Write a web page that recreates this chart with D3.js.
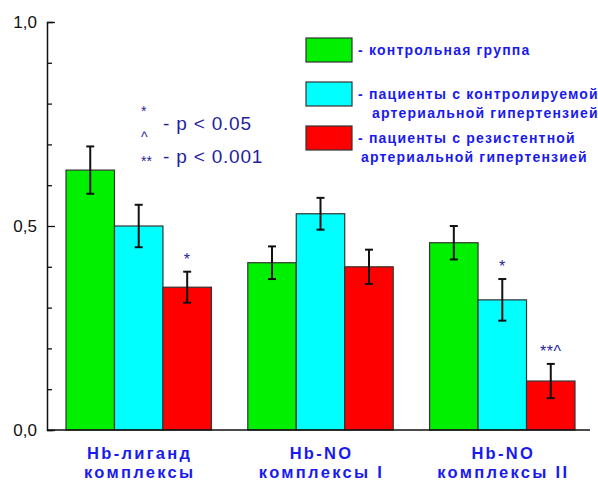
<!DOCTYPE html>
<html>
<head>
<meta charset="utf-8">
<script src="https://cdn.jsdelivr.net/npm/d3@7"></script>
<style>
  body { margin: 0; background: #fff; }
  svg { display: block; }
  .lbl { font-family: "Liberation Sans", Arial, sans-serif; }
</style>
</head>
<body>
<div id="chart"></div>
<script>
// data
const groups = ["g1", "g2", "g3"];
const groupLabels = [["Hb-лиганд", "комплексы"], ["Hb-NO", "комплексы I"], ["Hb-NO", "комплексы II"]];
const series = ["control", "controlled", "resistant"];
const seriesColors = ["#00f000", "#00ffff", "#ff0000"];
const legendLabels = [
  ["- контрольная группа"],
  ["- пациенты с контролируемой", "артериальной гипертензией"],
  ["- пациенты с резистентной", "артериальной гипертензией"]
];
const controlValues = [0.637, 0.41, 0.459];
const controlErrors = [0.058, 0.04, 0.041];
const controlledValues = [0.50, 0.53, 0.319];
const controlledErrors = [0.052, 0.039, 0.051];
const resistantValues = [0.35, 0.40, 0.12];
const resistantErrors = [0.038, 0.042, 0.042];
const marks = [["", "", "*"], ["", "", ""], ["", "*", "**^"]]; // per group, per series
const yTicks = [0, 0.5, 1.0];
const yTickLabels = ["0,0", "0,5", "1,0"];

const width = 598, height = 480;
const margin = {left: 47, bottom: 50, top: 22};

const svg = d3.select("#chart").append("svg")
  .attr("width", width).attr("height", height);

const y = d3.scaleLinear().domain([0, 1]).range([430, 22]);
const x = d3.scaleBand().domain(groups).range([66, 575]).paddingInner(0.2).paddingOuter(0);
const xs = d3.scaleBand().domain(series).range([0, x.bandwidth()]);

const allValues = [controlValues, controlledValues, resistantValues];
const allErrors = [controlErrors, controlledErrors, resistantErrors];

const rows = [];
groups.forEach((g, gi) => {
  series.forEach((s, si) => {
    rows.push({g, s, gi, si, v: allValues[si][gi], e: allErrors[si][gi], mark: marks[gi][si]});
  });
});

// bars
svg.append("g").selectAll("rect")
  .data(rows)
  .join("rect")
  .attr("x", d => x(d.g) + xs(d.s))
  .attr("y", d => y(d.v))
  .attr("width", xs.bandwidth())
  .attr("height", d => y(0) - y(d.v))
  .attr("fill", d => seriesColors[d.si])
  .attr("stroke", "#333")
  .attr("stroke-width", 1.2);

// error bars
const eb = svg.append("g").attr("stroke", "#111").attr("stroke-width", 2);
rows.forEach(d => {
  const cx = x(d.g) + xs(d.s) + xs.bandwidth() / 2;
  eb.append("line").attr("x1", cx).attr("x2", cx).attr("y1", y(d.v + d.e)).attr("y2", y(d.v - d.e));
  eb.append("line").attr("x1", cx - 4).attr("x2", cx + 4).attr("y1", y(d.v + d.e)).attr("y2", y(d.v + d.e));
  eb.append("line").attr("x1", cx - 4).attr("x2", cx + 4).attr("y1", y(d.v - d.e)).attr("y2", y(d.v - d.e));
});

// significance marks
svg.append("g").selectAll("text")
  .data(rows.filter(d => d.mark))
  .join("text")
  .attr("class", "lbl")
  .attr("x", d => x(d.g) + xs(d.s) + xs.bandwidth() / 2)
  .attr("y", d => y(d.v + d.e) - 7)
  .attr("text-anchor", "middle")
  .attr("font-size", 16)
  .attr("letter-spacing", "0.5px")
  .attr("fill", "#1f1fa0")
  .text(d => d.mark);

// axes
const yAxis = d3.axisLeft(y).tickValues(d3.range(0, 1.0001, 0.1)).tickSize(-6).tickFormat("");
const gy = svg.append("g").attr("transform", `translate(${margin.left},0)`).call(yAxis);
gy.select(".domain").attr("stroke", "#111").attr("stroke-width", 1.5);
gy.selectAll(".tick line").attr("stroke", "#111").attr("stroke-width", 1.3)
  .attr("x2", d => (Math.abs(d * 2 - Math.round(d * 2)) < 1e-6) ? 8 : 5);

svg.append("g").selectAll("text")
  .data(yTicks)
  .join("text")
  .attr("class", "lbl")
  .attr("x", 37)
  .attr("y", d => y(d) + 6)
  .attr("text-anchor", "end")
  .attr("font-size", 17)
  .attr("fill", "#111")
  .text((d, i) => yTickLabels[i]);

svg.append("line")
  .attr("x1", margin.left).attr("x2", 590)
  .attr("y1", y(0)).attr("y2", y(0))
  .attr("stroke", "#111").attr("stroke-width", 1.5);

// x labels
const xl = svg.append("g").selectAll("text")
  .data(groups)
  .join("text")
  .attr("class", "lbl")
  .attr("y", 459)
  .attr("text-anchor", "middle")
  .attr("font-size", 16.5)
  .attr("font-weight", "bold")
  .attr("letter-spacing", "2.3px")
  .attr("fill", "#1a1aee");
xl.each(function(d, i) {
  const t = d3.select(this);
  groupLabels[i].forEach((line, li) => {
    t.append("tspan").attr("x", x(d) + x.bandwidth() / 2 + 1).attr("dy", li === 0 ? 0 : 19).text(line);
  });
});

// legend
const lg = svg.append("g");
const legendY = [38, 82, 126];
const legendX2 = [0, 372, 361];
series.forEach((s, i) => {
  lg.append("rect")
    .attr("x", 306).attr("y", legendY[i])
    .attr("width", 46).attr("height", 24)
    .attr("fill", seriesColors[i])
    .attr("stroke", "#333").attr("stroke-width", 1.2);
  legendLabels[i].forEach((line, li) => {
    lg.append("text")
      .attr("class", "lbl")
      .attr("x", li === 0 ? 358 : legendX2[i])
      .attr("y", legendY[i] + 17 + li * 19)
      .attr("font-size", 14)
      .attr("font-weight", "bold")
      .attr("letter-spacing", "1.2px")
      .attr("fill", "#1a1aee")
      .text(line);
  });
});

// p-value note
const pn = svg.append("g").attr("fill", "#1f1fa0");
const pSyms = [["*", 116], ["^", 142], ["**", 166]];
pSyms.forEach(([s, yy]) => {
  pn.append("text").attr("class", "lbl").attr("x", 141).attr("y", yy)
    .attr("font-size", 14).text(s);
});
pn.append("text").attr("class", "lbl").attr("x", 163).attr("y", 130)
  .attr("font-size", 19).attr("letter-spacing", "0.8px").text("- p < 0.05");
pn.append("text").attr("class", "lbl").attr("x", 163).attr("y", 163)
  .attr("font-size", 19).attr("letter-spacing", "0.8px").text("- p < 0.001");
</script>
</body>
</html>
